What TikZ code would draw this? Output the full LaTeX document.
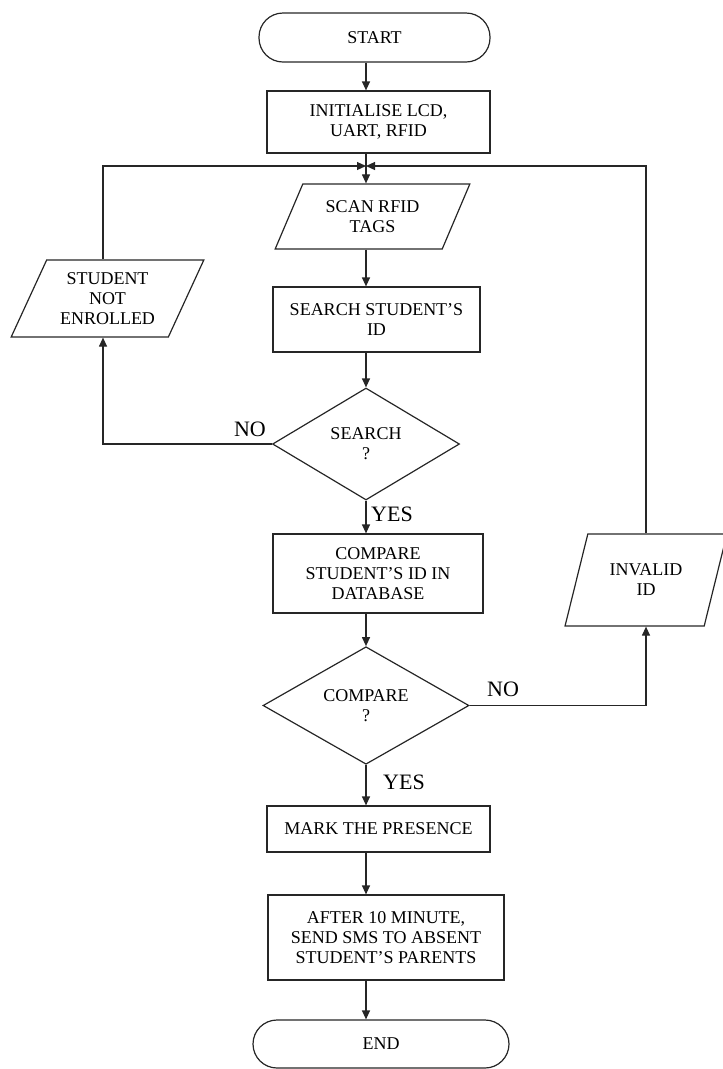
\documentclass[tikz,border=0pt]{standalone}
\usepackage{fontspec}
\setmainfont{Liberation Serif}
\usetikzlibrary{arrows.meta,shapes.geometric}

\begin{document}
\begin{tikzpicture}[
  x=1pt, y=-1pt,
  font=\fontsize{18}{20}\selectfont,
  line width=1.2pt, draw=black!85,
  term/.style={draw, rounded corners=24pt, align=center, inner sep=0pt},
  box/.style={draw, align=center, inner sep=0pt},
  io/.style={draw, trapezium, trapezium stretches=true, align=center, inner sep=0pt},
  dec/.style={draw, diamond, align=center, inner sep=0pt},
  lbl/.style={font=\fontsize{22}{24}\selectfont, inner sep=0pt},
  arr/.style={-{Triangle[length=9pt,width=8pt]}}
]
\useasboundingbox (0,0) rectangle (723,1069);
\node[term, minimum width=231pt, minimum height=49pt] (start) at (374.5,37.5) {START};
\node[box, minimum width=223pt, minimum height=62pt] (init) at (378.5,122) {INITIALISE LCD,\\UART, RFID};
\coordinate (join) at (366,166);
\node[io, trapezium left angle=60, trapezium right angle=120, minimum width=195pt, minimum height=65pt] (scan) at (372.5,216.5) {SCAN RFID\\TAGS};
\node[box, minimum width=207pt, minimum height=65pt] (search) at (376.5,319.5) {SEARCH STUDENT'S\\ID};
\node[dec, minimum width=187pt, minimum height=112pt] (found) at (366,444) {SEARCH\\?};
\node[io, trapezium left angle=62, trapezium right angle=118, minimum width=193pt, minimum height=77pt] (notenr) at (107.5,298.5) {STUDENT\\NOT\\ENROLLED};
\node[box, minimum width=210pt, minimum height=79pt] (compare) at (378,573.5) {COMPARE\\STUDENT'S ID IN\\DATABASE};
\node[dec, minimum width=206pt, minimum height=117pt] (match) at (366,705.5) {COMPARE\\?};
\node[io, trapezium left angle=66, trapezium right angle=114, minimum width=162pt, minimum height=92pt] (invalid) at (646,580) {INVALID\\ID};
\node[box, minimum width=223pt, minimum height=46pt] (mark) at (378.5,829) {MARK THE PRESENCE};
\node[box, minimum width=236pt, minimum height=85pt] (sms) at (386,937.5) {AFTER 10 MINUTE,\\SEND SMS TO ABSENT\\STUDENT'S PARENTS};
\node[term, minimum width=256pt, minimum height=48pt] (end) at (381,1044) {END};
% branch labels
\node[lbl] (no1) at (250,429) {NO};
\node[lbl] (yes1) at (392,514) {YES};
\node[lbl] (no2) at (503,689) {NO};
\node[lbl] (yes2) at (404,782) {YES};
% main flow
\coordinate (spine) at (366,0);
\coordinate (lx) at (103,0);
\coordinate (rx) at (646,0);
\draw[arr] (start.south -| spine) -- (init.north -| spine);
\draw[arr] (init.south -| spine) -- (scan.north -| spine);
\draw[arr] (scan.south -| spine) -- (search.north -| spine);
\draw[arr] (search.south -| spine) -- (found.north);
\draw[arr] (found.south) -- (compare.north -| spine);
\draw[arr] (compare.south -| spine) -- (match.north);
\draw[arr] (match.south) -- (mark.north -| spine);
\draw[arr] (mark.south -| spine) -- (sms.north -| spine);
\draw[arr] (sms.south -| spine) -- (end.north -| spine);
% loops back
\draw[arr] (found.west) -| (notenr.south -| lx);
\draw[arr] (notenr.north -| lx) |- (join);
\draw[arr] (match.east) -| (invalid.south -| rx);
\draw[arr] (invalid.north -| rx) |- (join);
\end{tikzpicture}
\end{document}
